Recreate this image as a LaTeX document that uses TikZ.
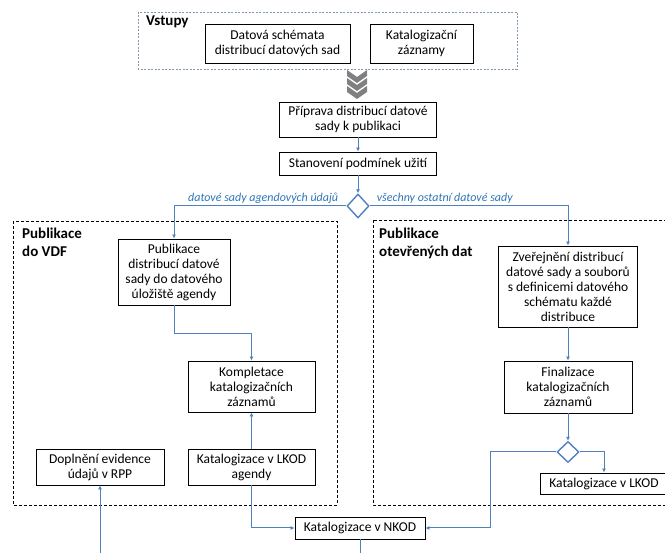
\documentclass[tikz,border=0pt]{standalone}
\usepackage{fontspec}
\setmainfont{Carlito}
\usetikzlibrary{arrows.meta,shapes.geometric}
\definecolor{flowblue}{RGB}{79,129,189}
\definecolor{lblblue}{RGB}{46,117,182}
\definecolor{inframe}{RGB}{132,151,176}
\definecolor{chevgray}{RGB}{128,128,128}
\begin{document}
\begin{tikzpicture}[x=1pt,y=-1pt,
  box/.style={draw, line width=0.9pt, align=center, inner sep=1pt, font=\fontsize{13.5}{15}\selectfont},
  frame/.style={draw, line width=0.8pt, dash pattern=on 3pt off 2pt},
  title/.style={anchor=north west, align=left, inner sep=0pt, font=\fontsize{15}{18}\selectfont\bfseries},
  lbl/.style={text=lblblue, inner sep=1pt, font=\fontsize{12}{14}\selectfont\itshape},
  decision/.style={diamond, draw=flowblue, line width=1.4pt, fill=white, minimum width=22pt, minimum height=24pt, inner sep=0pt},
  flow/.style={draw=flowblue, line width=1pt, -{Latex[length=4pt,width=4pt]}}]
\useasboundingbox (0,0) rectangle (665,553);
% inputs
\draw[frame, draw=inframe, dash pattern=on 2pt off 1.5pt] (138,12) rectangle (517,69);
\node[title] (tvst) at (146,16) {Vstupy};
\node[box, minimum width=145pt, minimum height=39pt] (schema) at (277.5,43.5) {Datová schémata\\distribucí datových sad};
\node[box, minimum width=103pt, minimum height=39pt] (katal) at (421.5,43.5) {Katalogizační\\záznamy};
\foreach \dy in {0,8,16}
  \fill[chevgray] (347,70+\dy) -- (357,77+\dy) -- (367,70+\dy) -- (367,76+\dy) -- (357,83+\dy) -- (347,76+\dy) -- cycle;
% preparation
\node[box, minimum width=157pt, minimum height=35pt] (priprava) at (358,119.5) {Příprava distribucí datové\\sady k publikaci};
\node[box, minimum width=157pt, minimum height=23pt] (stanov) at (358,163.5) {Stanovení podmínek užití};
\node[decision] (dec) at (358,206) {};
\node[lbl, anchor=south east] (lblvdf) at ([xshift=-7pt,yshift=1pt]dec.west) {datové sady agendových údajů};
\node[lbl, anchor=south west] (lblotev) at ([xshift=6pt,yshift=1pt]dec.east) {všechny ostatní datové sady};
% VDF
\draw[frame] (13,221) rectangle (337,505);
\node[title] (tvdf) at (22,228) {Publikace\\do VDF};
\node[box, minimum width=112pt, minimum height=66pt] (pubvdf) at (174,272) {Publikace\\distribucí datové\\sady do datového\\úložiště agendy};
\node[box, minimum width=127pt, minimum height=51pt] (komplet) at (251.5,386.5) {Kompletace\\katalogizačních\\záznamů};
\node[box, minimum width=128pt, minimum height=36pt] (rpp) at (100,467) {Doplnění evidence\\údajů v RPP};
\node[box, minimum width=127pt, minimum height=36pt] (lkodag) at (251.5,467) {Katalogizace v LKOD\\agendy};
% open data
\draw[frame] (373,220) rectangle (690,505);
\node[title] (totev) at (379,228) {Publikace\\otevřených dat};
\node[box, minimum width=139pt, minimum height=81pt] (zverej) at (568,286.5) {Zveřejnění distribucí\\datové sady a souborů\\s definicemi datového\\schématu každé\\distribuce};
\node[box, minimum width=128pt, minimum height=52pt] (final) at (568,387) {Finalizace\\katalogizačních\\záznamů};
\node[decision, minimum height=21pt] (dec2) at (568,452) {};
\node[box, minimum width=128pt, minimum height=21pt] (lkod) at (604,483.5) {Katalogizace v LKOD};
\node[box, minimum width=130pt, minimum height=22pt] (nkod) at (360,528) {Katalogizace v NKOD};
\coordinate (nkodbend) at (490,452);
% flows
\draw[flow] (priprava) -- (stanov);
\draw[flow] (stanov) -- (dec);
\draw[flow] (dec.west) -| (pubvdf.north);
\draw[flow] (dec.east) -| (zverej.north);
\draw[flow] (pubvdf.south) -- ++(0,28) -| (komplet.north);
\draw[flow] (lkodag) -- (komplet);
\draw[flow] (lkodag.south) |- (nkod.west);
\draw[flow] (zverej) -- (final);
\draw[flow] (final) -- (dec2);
\draw[flow] (dec2.east) -| (lkod.north);
\draw[flow] (dec2.west) -- (nkodbend) |- (nkod.east);
\draw[flow] (nkod.south) -- ++(0,23) -| (rpp.south);
\end{tikzpicture}
\end{document}
